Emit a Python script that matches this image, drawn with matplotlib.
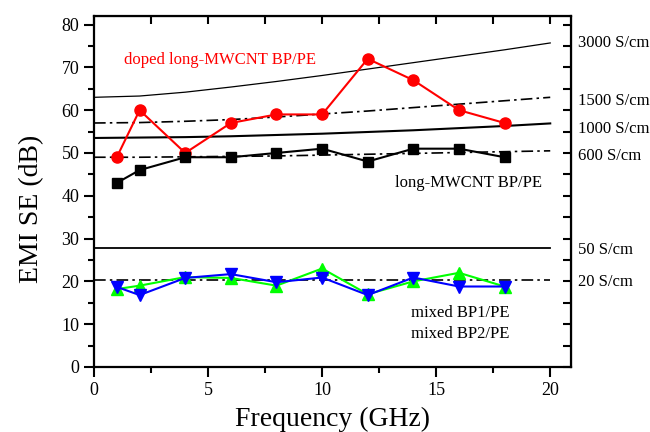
import matplotlib
matplotlib.use('Agg')
import matplotlib.pyplot as plt
from matplotlib.ticker import MultipleLocator

plt.rcParams['font.family'] = ['Liberation Serif', 'DejaVu Serif']

# measured data
freq = [1, 2, 4, 6, 8, 10, 12, 14, 16, 18]
doped_long = [49, 60, 50, 57, 59, 59, 72, 67, 60, 57]
long_mwcnt = [43, 46, 49, 49, 50, 51, 48, 51, 51, 49]
mixed_bp1 = [18.2, 19, 21, 20.8, 19, 23, 17, 20, 22, 18.8]
mixed_bp2 = [18.7, 16.8, 20.8, 21.7, 19.8, 20.9, 16.8, 20.9, 18.8, 18.8]

# calculated curves for fixed conductivity
calc_freq = [0, 2, 4, 6, 8, 10, 12, 14, 16, 18, 20]
se_3000 = [63.0, 63.3, 64.2, 65.4, 66.7, 68.1, 69.6, 71.1, 72.6, 74.1, 75.7]
se_1500 = [57.0, 57.1, 57.4, 57.8, 58.4, 59.1, 59.8, 60.6, 61.4, 62.2, 63.0]
se_1000 = [53.5, 53.6, 53.7, 53.9, 54.2, 54.5, 54.9, 55.3, 55.8, 56.3, 56.9]
se_600 = [49.0, 49.0, 49.1, 49.2, 49.3, 49.5, 49.7, 49.9, 50.1, 50.3, 50.5]
se_50 = [27.7] * 11
se_20 = [20.3] * 11

fig = plt.figure(figsize=(6.5, 4.32), dpi=100)
ax = fig.add_axes([0.1446, 0.1505, 0.7335, 0.8125])

dashdot = (0, (7, 2.5, 1.5, 2.5))
ax.plot(calc_freq, se_3000, color='k', lw=0.9)
ax.plot(calc_freq, se_1500, color='k', lw=1.2, linestyle=dashdot)
ax.plot(calc_freq, se_1000, color='k', lw=1.5)
ax.plot(calc_freq, se_600, color='k', lw=1.2, linestyle=dashdot)
ax.plot(calc_freq, se_50, color='k', lw=1.3)
ax.plot(calc_freq, se_20, color='k', lw=1.2, linestyle=dashdot)

ax.plot(freq, doped_long, color='#ff0000', marker='o', markersize=8, lw=1.5)
ax.plot(freq, long_mwcnt, color='k', marker='s', markersize=7, lw=1.5)
ax.plot(freq, mixed_bp1, color='#00ff00', marker='^', markersize=9, lw=1.5)
ax.plot(freq, mixed_bp2, color='#0000ff', marker='v', markersize=9, lw=1.5)

ax.set_xlim(0, 20.9)
ax.set_ylim(0, 82)
ax.xaxis.set_major_locator(MultipleLocator(5))
ax.xaxis.set_minor_locator(MultipleLocator(2.5))
ax.yaxis.set_major_locator(MultipleLocator(10))
ax.yaxis.set_minor_locator(MultipleLocator(5))
ax.tick_params(which='both', direction='out', width=1.5, labelsize=13,
               top=False, right=False)
ax.tick_params(which='major', length=7)
ax.tick_params(which='minor', length=4)
for sp in ax.spines.values():
    sp.set_linewidth(1.6)

top = ax.secondary_xaxis('top')
top.xaxis.set_major_locator(MultipleLocator(2.5))
top.tick_params(direction='in', length=6, width=1.5, labeltop=False)
right = ax.secondary_yaxis('right')
right.yaxis.set_major_locator(MultipleLocator(5))
right.tick_params(direction='in', length=6, width=1.5, labelright=False)

ax.set_xlabel('Frequency (GHz)', fontsize=20, labelpad=6)
ax.set_ylabel('EMI SE (dB)', fontsize=20)
ax.yaxis.set_label_coords(-0.104, 0.45)

ax.text(1.3, 71.8, 'doped long-MWCNT BP/PE', color='#ff0000', fontsize=12, va='center')
ax.text(13.2, 43, 'long-MWCNT BP/PE', color='k', fontsize=12, va='center')
ax.text(13.9, 12.5, 'mixed BP1/PE', color='k', fontsize=12, va='center')
ax.text(13.9, 7.6, 'mixed BP2/PE', color='k', fontsize=12, va='center')

labels = ['3000 S/cm', '1500 S/cm', '1000 S/cm', '600 S/cm', '50 S/cm', '20 S/cm']
label_y = [75.8, 62.2, 55.7, 49.3, 27.3, 19.8]
for lab, yy in zip(labels, label_y):
    ax.text(21.2, yy, lab, fontsize=12, va='center', clip_on=False)

fig.savefig('out.png', dpi=100)
